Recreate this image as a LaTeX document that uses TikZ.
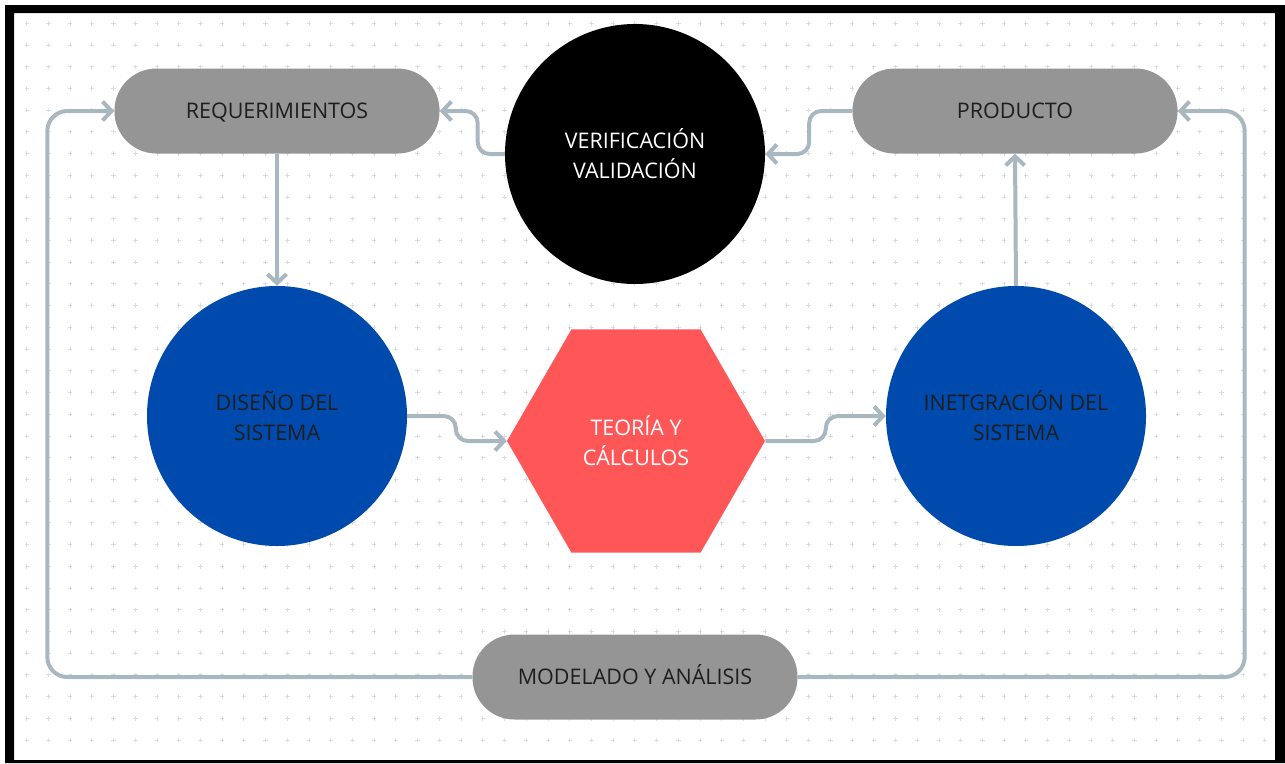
\documentclass[tikz,border=0pt]{standalone}
\usepackage{fontspec}
\setmainfont{Open Sans}
\usetikzlibrary{arrows.meta,shapes.geometric,calc}
\definecolor{pillgray}{HTML}{959595}
\definecolor{discblue}{HTML}{004AAD}
\definecolor{hexred}{HTML}{FF5757}
\definecolor{conncol}{HTML}{A9B7C1}
\definecolor{dotcol}{HTML}{D9DDE4}
\definecolor{txt}{HTML}{1E1E1E}
\tikzset{pill/.style = {rectangle, rounded corners=42pt, minimum width=325pt, minimum height=85pt, inner sep=0pt, text height=15.4pt, text depth=0pt, fill=pillgray, text=txt},
         disc/.style = {circle, minimum size=260pt, inner sep=0pt, align=center, fill=discblue, text=txt},
         hexa/.style = {regular polygon, regular polygon sides=6, minimum size=258pt, inner sep=0pt, align=center, fill=hexred, text=white},
         conn/.style = {draw=conncol, line width=4pt, rounded corners=12pt, -{Straight Barb[length=9pt, width=19pt]}}}

\begin{document}
\begin{tikzpicture}[x=1pt, y=-1pt, font=\fontsize{21.5}{30}\selectfont]
    \useasboundingbox (0,0) rectangle (1285,763);
    % dotted background
    \foreach \i in {0,...,57}
      \foreach \j in {0,...,33}
        \draw[dotcol, line width=0.9pt] ({26.7+21.72*\i-2.2},{23.3+21.72*\j}) -- ++(4.4,0)
                                        ({26.7+21.72*\i},{23.3+21.72*\j-2.2}) -- ++(0,4.4);
    \node[pill] (req) at (277,111) {REQUERIMIENTOS};
    \node[pill] (prod) at (1015,111) {PRODUCTO};
    \node[disc, fill=black, text=white] (vv) at (635,154) {VERIFICACIÓN\\VALIDACIÓN};
    \node[disc] (dis) at (277,416) {DISEÑO DEL\\SISTEMA};
    \node[hexa] (teo) at (636,441) {TEORÍA Y\\CÁLCULOS};
    \node[disc] (int) at (1016,416) {INETGRACIÓN DEL\\SISTEMA};
    \node[pill] (mod) at (635,677) {MODELADO Y ANÁLISIS};
    \draw[conn] (req.south) -- (dis.north);
    \draw[conn] (int.north) -- (prod.south);
    \draw[conn] (vv.west) -| ([xshift=38pt]req.east) -- (req.east);
    \draw[conn] (prod.west) -| ([xshift=44pt]vv.east) -- (vv.east);
    \draw[conn] (dis.east) -| ([xshift=-51pt]teo.west) -- (teo.west);
    \draw[conn] (teo.east) -| ([xshift=-60pt]int.west) -- (int.west);
    \draw[conn, rounded corners=20pt] (mod.west) -| ([xshift=-67pt]req.west) -- (req.west);
    \draw[conn, rounded corners=20pt] (mod.east) -| ([xshift=67pt]prod.east) -- (prod.east);
    % frame
    \fill[black, even odd rule] (5,5) rectangle (1285,763) (14,13) rectangle (1275,760);
\end{tikzpicture}
\end{document}
